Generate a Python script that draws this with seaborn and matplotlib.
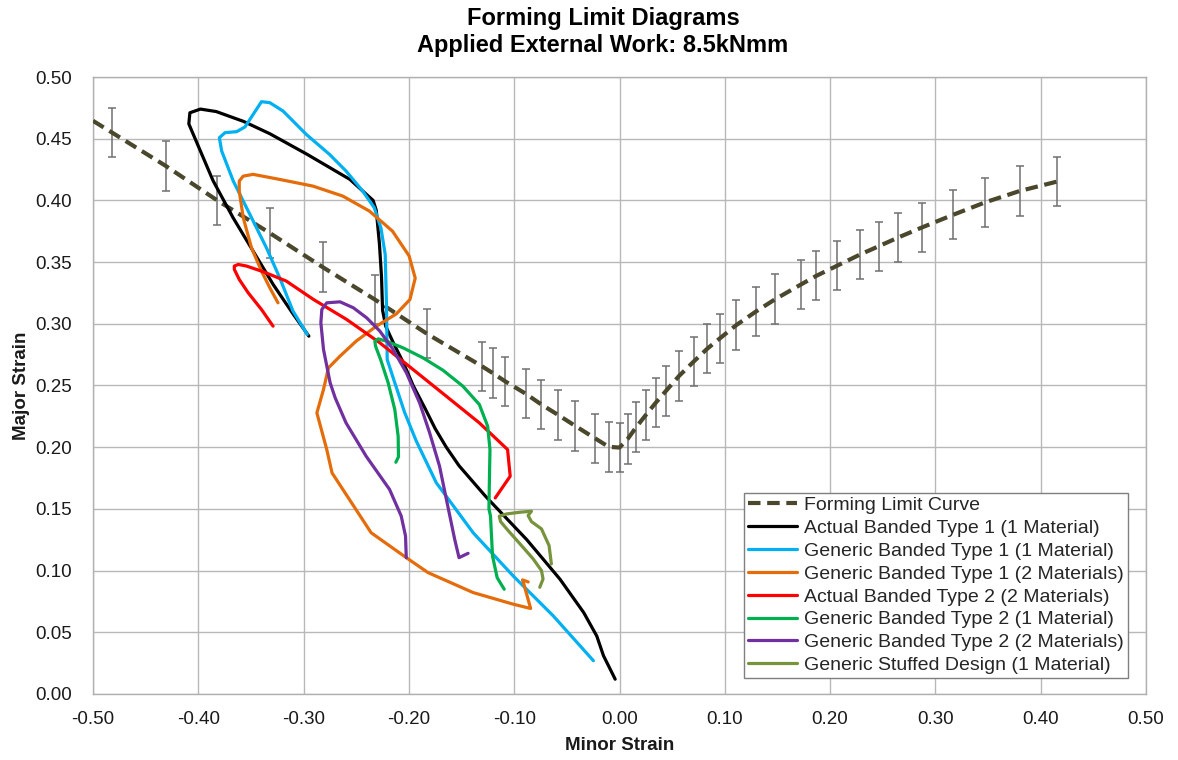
import matplotlib
matplotlib.use("Agg")
import matplotlib.pyplot as plt
from matplotlib.ticker import MultipleLocator, FormatStrFormatter
import seaborn as sns

# ---------------- data ----------------
flc_x = [-0.500, -0.482, -0.431, -0.382, -0.332, -0.282, -0.232, -0.183, -0.1306, -0.1203,
         -0.1088, -0.089, -0.0744, -0.058, -0.0419, -0.0234, -0.0103, 0.0, 0.0076, 0.016,
         0.025, 0.0345, 0.044, 0.0565, 0.0707, 0.0833, 0.0953, 0.111, 0.130, 0.148,
         0.172, 0.187, 0.2065, 0.2286, 0.2463, 0.2646, 0.287, 0.317, 0.3475, 0.380, 0.4153]
flc_y = [0.4645, 0.455, 0.428, 0.400, 0.3735, 0.346, 0.3195, 0.292, 0.2656, 0.260,
         0.2535, 0.2433, 0.2347, 0.226, 0.2172, 0.2073, 0.2003, 0.1997, 0.2065, 0.2164,
         0.2261, 0.2361, 0.2455, 0.2577, 0.2696, 0.2798, 0.2882, 0.299, 0.3102, 0.320,
         0.3317, 0.3389, 0.347, 0.3562, 0.3629, 0.3699, 0.378, 0.3884, 0.3985, 0.4076, 0.4152]
FLC_ERR = 0.02

abt1_x = [-0.295, -0.310, -0.329, -0.348, -0.367, -0.386, -0.401, -0.409, -0.408, -0.398,
          -0.383, -0.357, -0.332, -0.297, -0.256, -0.234, -0.231, -0.228, -0.226, -0.225,
          -0.222, -0.215, -0.205, -0.196, -0.185, -0.175, -0.1645, -0.1524, -0.127, -0.088,
          -0.0565, -0.034, -0.0216, -0.0152, -0.0041]
abt1_y = [0.290, 0.308, 0.332, 0.359, 0.386, 0.416, 0.446, 0.462, 0.471, 0.474,
          0.472, 0.464, 0.454, 0.4375, 0.417, 0.400, 0.392, 0.365, 0.338, 0.311,
          0.298, 0.285, 0.268, 0.250, 0.232, 0.215, 0.200, 0.185, 0.160, 0.125,
          0.093, 0.066, 0.047, 0.031, 0.012]

gbt1m1_x = [-0.2965, -0.3101, -0.3227, -0.3353, -0.3510, -0.3668, -0.3778, -0.3800, -0.3746, -0.3636,
            -0.3557, -0.3479, -0.3400, -0.3321, -0.3195, -0.2975, -0.2754, -0.2597, -0.2439, -0.2329,
            -0.2266, -0.2225, -0.2213, -0.2206, -0.2134, -0.2040, -0.1930, -0.174, -0.139, -0.101,
            -0.0629, -0.0248]
gbt1m1_y = [0.2914, 0.3103, 0.3373, 0.3616, 0.3886, 0.4157, 0.4400, 0.4508, 0.4549, 0.4557,
            0.4595, 0.4697, 0.4800, 0.4792, 0.4724, 0.4535, 0.4373, 0.4238, 0.4076, 0.3941,
            0.3778, 0.3562, 0.3157, 0.271, 0.2522, 0.228, 0.205, 0.1712, 0.1307, 0.0957,
            0.0633, 0.0270]

gbt1m2_x = [-0.3243, -0.3321, -0.3400, -0.3495, -0.3573, -0.3611, -0.3611, -0.3573, -0.3479, -0.3227,
            -0.2912, -0.2628, -0.2376, -0.2156, -0.1998, -0.1940, -0.1990, -0.2120, -0.2310, -0.2500,
            -0.2654, -0.2764, -0.2811, -0.2874, -0.2780, -0.2730, -0.2359, -0.2025, -0.1819, -0.1390,
            -0.1010, -0.0844, -0.0908, -0.0921, -0.0867]
gbt1m2_y = [0.3170, 0.3292, 0.3427, 0.3616, 0.3859, 0.4076, 0.4157, 0.4197, 0.4211, 0.4170,
            0.4116, 0.4035, 0.3914, 0.3751, 0.3550, 0.3370, 0.3197, 0.3080, 0.2980, 0.2860,
            0.2738, 0.2643, 0.2468, 0.2278, 0.1981, 0.1792, 0.1307, 0.1105, 0.0984, 0.0822,
            0.0728, 0.0693, 0.0890, 0.0925, 0.0908]

abt2_x = [-0.3290, -0.3400, -0.3526, -0.3611, -0.3658, -0.3658, -0.3620, -0.3542, -0.3384, -0.3164,
          -0.2906, -0.2591, -0.2276, -0.1961, -0.1646, -0.1331, -0.1063, -0.1038, -0.1180]
abt2_y = [0.2981, 0.3116, 0.3251, 0.3359, 0.3441, 0.3468, 0.3481, 0.3468, 0.3422, 0.3346,
          0.3197, 0.3035, 0.2846, 0.2630, 0.2414, 0.2197, 0.1981, 0.1765, 0.1589]

gbt2m1_x = [-0.2124, -0.2099, -0.2102, -0.2134, -0.2197, -0.2269, -0.2317, -0.2323, -0.2291, -0.2213,
            -0.2055, -0.1866, -0.1677, -0.1488, -0.1331, -0.1252, -0.1230, -0.1236, -0.1240, -0.1225,
            -0.1206, -0.1162, -0.1095]
gbt2m1_y = [0.1878, 0.1922, 0.2089, 0.2305, 0.2522, 0.2711, 0.2819, 0.2859, 0.2878, 0.2859,
            0.2805, 0.2724, 0.2624, 0.2495, 0.2346, 0.2170, 0.1981, 0.1711, 0.1500, 0.1442,
            0.1119, 0.0943, 0.0849]

gbt2m2_x = [-0.2025, -0.2032, -0.2073, -0.2184, -0.2406, -0.2597, -0.2700, -0.2748, -0.2811, -0.2836,
            -0.2827, -0.2780, -0.2654, -0.2528, -0.2402, -0.2276, -0.2150, -0.2024, -0.1898, -0.1803,
            -0.1709, -0.1644, -0.1565, -0.1524, -0.1438]
gbt2m2_y = [0.1105, 0.1280, 0.1442, 0.1658, 0.1927, 0.2197, 0.2400, 0.2522, 0.2792, 0.3008,
            0.3116, 0.3170, 0.3178, 0.3130, 0.3049, 0.2941, 0.2792, 0.2603, 0.2359, 0.2116,
            0.1846, 0.1577, 0.1253, 0.1105, 0.1140]

gsd_x = [-0.0647, -0.0669, -0.0741, -0.0836, -0.0868, -0.0836, -0.0946, -0.1073, -0.1142, -0.1129,
         -0.1057, -0.0931, -0.0820, -0.0741, -0.0726, -0.0757]
gsd_y = [0.1054, 0.1203, 0.1338, 0.1397, 0.1446, 0.1481, 0.1473, 0.1459, 0.1441, 0.1397,
         0.1324, 0.1203, 0.1095, 0.1000, 0.0932, 0.0865]

series_names = ["Actual Banded Type 1 (1 Material)",
                "Generic Banded Type 1 (1 Material)",
                "Generic Banded Type 1 (2 Materials)",
                "Actual Banded Type 2 (2 Materials)",
                "Generic Banded Type 2 (1 Material)",
                "Generic Banded Type 2 (2 Materials)",
                "Generic Stuffed Design (1 Material)"]
series_colors = ["#000000", "#00b0f0", "#e46c0a", "#ff0000", "#00b050", "#7030a0", "#77933c"]
series_x = [abt1_x, gbt1m1_x, gbt1m2_x, abt2_x, gbt2m1_x, gbt2m2_x, gsd_x]
series_y = [abt1_y, gbt1m1_y, gbt1m2_y, abt2_y, gbt2m1_y, gbt2m2_y, gsd_y]

# ---------------- plot ----------------
sns.set_theme(style="white")
plt.rcParams['font.family'] = ['Liberation Sans', 'DejaVu Sans']

W, H = 1178, 760
fig = plt.figure(figsize=(W / 100, H / 100), dpi=100)
ax = fig.add_axes([93 / W, 1 - 694 / H, (1146 - 93) / W, (694 - 77) / H])

ax.errorbar(flc_x[1:], flc_y[1:], yerr=FLC_ERR, fmt='none', ecolor='#707070',
            elinewidth=1.1, capsize=3, capthick=1.1, zorder=2)
sns.lineplot(x=flc_x, y=flc_y, sort=False, estimator=None, color='#4a472d', linewidth=3.0,
             linestyle=(0, (3, 1.6)), label='Forming Limit Curve', ax=ax, zorder=3)
for name, xs, ys, col in zip(series_names, series_x, series_y, series_colors):
    sns.lineplot(x=xs, y=ys, sort=False, estimator=None, color=col, linewidth=2.3,
                 label=name, ax=ax, zorder=4)

ax.set_xlim(-0.5, 0.5)
ax.set_ylim(0, 0.5)
ax.xaxis.set_major_locator(MultipleLocator(0.1))
ax.yaxis.set_major_locator(MultipleLocator(0.05))
ax.xaxis.set_major_formatter(FormatStrFormatter('%.2f'))
ax.yaxis.set_major_formatter(FormatStrFormatter('%.2f'))
ax.grid(True, color='#b8b8b8', linewidth=1.0)
ax.set_axisbelow(True)
for sp in ax.spines.values():
    sp.set_color('#b0b0b0')
    sp.set_linewidth(1.0)
ax.tick_params(axis='both', length=0, labelsize=13.5, labelcolor='#1a1a1a')
ax.tick_params(axis='x', pad=12)
ax.tick_params(axis='y', pad=15)

ax.set_xlabel('Minor Strain', fontsize=13.5, fontweight='bold', color='#1a1a1a')
ax.set_ylabel('Major Strain', fontsize=13.5, fontweight='bold', color='#1a1a1a')
ax.xaxis.set_label_coords(0.5, -(737 - 694) / 617)
ax.yaxis.set_label_coords(-(93 - 30) / 1053, 0.5)

fig.text(603 / W, 1 - 32 / H, "Forming Limit Diagrams\nApplied External Work: 8.5kNmm",
         ha='center', va='center', fontsize=17, fontweight='bold', linespacing=1.22,
         color='#000000')

leg = ax.legend(loc='lower right', bbox_to_anchor=((1128 - 93) / 1053, (694 - 678) / 617),
                frameon=True, fancybox=False, edgecolor='#7f7f7f', framealpha=1, fontsize=14,
                handlelength=2.5, handletextpad=0.4, labelspacing=0.27, borderpad=0.2,
                borderaxespad=0)
leg.get_frame().set_linewidth(1.0)

fig.savefig("out.png", dpi=100)
